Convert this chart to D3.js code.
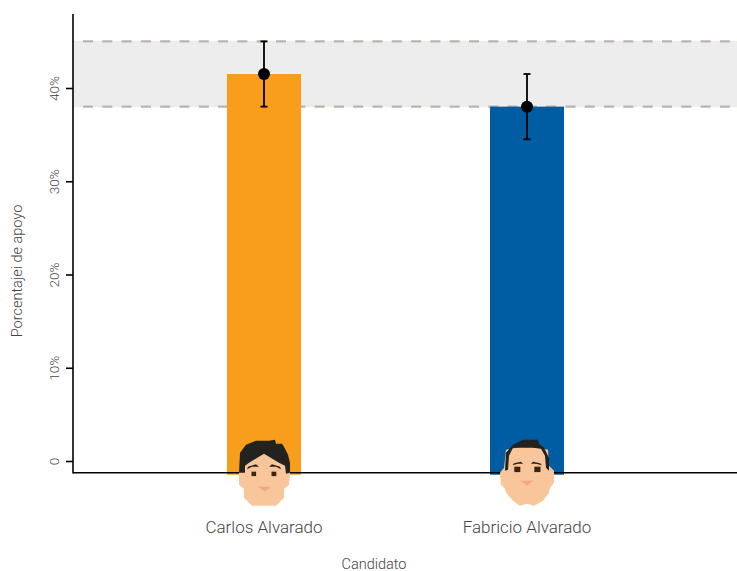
<!DOCTYPE html>
<html>
<head>
<meta charset="utf-8">
<script src="https://cdn.jsdelivr.net/npm/d3@7"></script>
<style>
  html, body { margin: 0; padding: 0; background: #fff; }
  svg { display: block; }
  text { font-family: "Roboto", sans-serif; font-weight: 300; fill: #444; }
</style>
</head>
<body>
<svg id="chart" width="737" height="571"></svg>
<script>
const candidatos = ['Carlos Alvarado', 'Fabricio Alvarado'];
const apoyo = [41.5, 38];
const errorMin = [38, 34.5];
const errorMax = [45, 41.5];
const colores = ['#f99d1c', '#005da4'];
const bandaApoyo = [38, 45];
const yTicks = [0, 10, 20, 30, 40];

const svg = d3.select('#chart');

// ---- Escalas
const mapY = d3.scaleLinear().domain([0, 40]).range([461, 88]);
const mapX = d3.scalePoint().domain(candidatos).range([264, 527]);
const barWidth = 74;
const axisBottomY = 472.7;
const axisLeftX = 73;
const chartRight = 737;

// ---- Banda
svg.append('rect')
    .attr('x', axisLeftX)
    .attr('y', mapY(bandaApoyo[1]))
    .attr('width', chartRight - axisLeftX)
    .attr('height', mapY(bandaApoyo[0]) - mapY(bandaApoyo[1]))
    .attr('fill', '#ededed');

bandaApoyo.forEach(v => {
    svg.append('line')
        .attr('x1', axisLeftX).attr('x2', chartRight)
        .attr('y1', mapY(v)).attr('y2', mapY(v))
        .attr('stroke', '#f3ead2').attr('stroke-width', 1);
    svg.append('line')
        .attr('x1', axisLeftX).attr('x2', chartRight)
        .attr('y1', mapY(v)).attr('y2', mapY(v))
        .attr('stroke', '#b5b5b5').attr('stroke-width', 2.4)
        .attr('stroke-dasharray', '10 9.3')
        .attr('stroke-dashoffset', -10);
});

// ---- Barras
svg.selectAll('.bar')
    .data(candidatos)
    .join('rect')
    .attr('class', 'bar')
    .attr('x', d => mapX(d) - barWidth / 2)
    .attr('y', (d, i) => mapY(apoyo[i]))
    .attr('width', barWidth)
    .attr('height', (d, i) => axisBottomY + 2 - mapY(apoyo[i]))
    .attr('fill', (d, i) => colores[i]);

// ---- Barras de error
const errs = svg.selectAll('.err').data(candidatos).join('g').attr('class', 'err');
errs.append('line')
    .attr('x1', d => mapX(d)).attr('x2', d => mapX(d))
    .attr('y1', (d, i) => mapY(errorMin[i])).attr('y2', (d, i) => mapY(errorMax[i]))
    .attr('stroke', '#000').attr('stroke-width', 1.8);
[errorMin, errorMax].forEach(serie => {
    errs.append('line')
        .attr('x1', d => mapX(d) - 3.5).attr('x2', d => mapX(d) + 3.5)
        .attr('y1', (d, i) => mapY(serie[i])).attr('y2', (d, i) => mapY(serie[i]))
        .attr('stroke', '#000').attr('stroke-width', 1.8);
});
errs.append('circle')
    .attr('cx', d => mapX(d))
    .attr('cy', (d, i) => mapY(apoyo[i]))
    .attr('r', 6)
    .attr('fill', '#000');

// ---- Eixos
const yAxis = d3.axisLeft(mapY)
    .tickValues(yTicks)
    .tickSize(7)
    .tickPadding(0)
    .tickFormat(d => d === 0 ? '0' : d + '%');
const gy = svg.append('g').attr('transform', `translate(${axisLeftX}, 0)`).call(yAxis);
gy.select('.domain').remove();
gy.selectAll('.tick line').attr('stroke', '#000').attr('stroke-width', 1.6);
gy.selectAll('.tick text')
    .attr('transform', 'rotate(-90)')
    .attr('x', 0)
    .attr('y', -14)
    .attr('dy', 0)
    .attr('text-anchor', 'middle')
    .style('font-size', '13.5px')
    .style('font-family', 'Roboto')
    .style('font-weight', 300);

svg.append('line')
    .attr('x1', axisLeftX).attr('x2', axisLeftX)
    .attr('y1', 14).attr('y2', axisBottomY + 0.8)
    .attr('stroke', '#000').attr('stroke-width', 1.6);

svg.append('line')
    .attr('x1', axisLeftX).attr('x2', chartRight)
    .attr('y1', axisBottomY).attr('y2', axisBottomY)
    .attr('stroke', '#000').attr('stroke-width', 1.6);

// ---- Caras
const skin = '#f9c59a', hair = '#22231f', eye = '#3a2413', nose = '#f2a77f';
const poly = (g, pts, fill) => g.append('polygon').attr('points', pts.map(p => p.join(',')).join(' ')).attr('fill', fill);

function caraCarlos(g) {
    poly(g, [[-25,0],[-25,12],[-20,16],[-20,25],[-12,33],[12,33],[20,25],[20,16],[25,12],[26,0],[20,-17],[0,-20],[-20,-17]], skin);
    poly(g, [[-25,0],[-24,-20],[-18,-28],[-8,-32],[5,-32],[11,-33],[12,-29],[18,-29],[20,-26],[24,-18],[26,-10],[26,0],[22,1],[21,-7],[15,-10],[0,-19],[-15,-10],[-19,-7],[-19,0]], hair);
    poly(g, [[-17,-3.5],[-16,-6],[-8,-8.5],[-5,-6],[-12,-6]], hair);
    poly(g, [[17,-3.5],[16,-6],[8,-8.5],[5,-6],[12,-6]], hair);
    g.append('rect').attr('x', -12.5).attr('y', -1).attr('width', 4.6).attr('height', 4.4).attr('fill', eye);
    g.append('rect').attr('x', 7.5).attr('y', -1).attr('width', 4.8).attr('height', 4.4).attr('fill', eye);
    poly(g, [[-6,14],[7,14],[1,18.5]], nose);
}

function caraFabricio(g) {
    poly(g, [[-27,0],[-26,12],[-22,16],[-21,20],[-14,28],[-7,33],[0,31],[7,33],[16,28],[22,20],[23,15],[27,10],[27,-2],[22,-7],[21,-23],[0,-27],[-21,-23],[-23,-5]], skin);
    poly(g, [[-22,-2],[-21,-20],[-14,-28],[-4,-33],[11,-33],[12,-29],[17,-25],[22,-15],[22,-2],[19,-5],[18,-17],[14,-24],[6,-25],[-14,-25],[-18,-17],[-19,-3]], hair);
    poly(g, [[-14.5,-7.5],[-13,-9.5],[-6,-11],[-4,-9],[-9,-9]], hair);
    poly(g, [[15,-7.5],[13,-9.5],[6,-11],[4,-9],[9,-9]], hair);
    g.append('rect').attr('x', -12.7).attr('y', -6).attr('width', 6).attr('height', 5.4).attr('fill', eye);
    g.append('rect').attr('x', 7.3).attr('y', -6).attr('width', 6.2).attr('height', 5.4).attr('fill', eye);
    poly(g, [[-6.7,8],[6.7,8],[0,12.7]], nose);
}

const caras = [caraCarlos, caraFabricio];
candidatos.forEach((c, i) => {
    const g = svg.append('g').attr('transform', `translate(${mapX(c)}, ${axisBottomY})`);
    caras[i](g);
});

// ---- Rótulos
svg.selectAll('.cat')
    .data(candidatos)
    .join('text')
    .attr('class', 'cat')
    .attr('x', d => mapX(d))
    .attr('y', 533)
    .attr('text-anchor', 'middle')
    .style('font-size', '17px')
    .text(d => d);

svg.append('text')
    .attr('x', 374).attr('y', 569)
    .attr('text-anchor', 'middle')
    .style('font-size', '14.5px')
    .text('Candidato');

svg.append('text')
    .attr('transform', 'translate(22, 271) rotate(-90)')
    .attr('text-anchor', 'middle')
    .style('font-size', '14.5px')
    .text('Porcentajei de apoyo');
</script>
</body>
</html>
